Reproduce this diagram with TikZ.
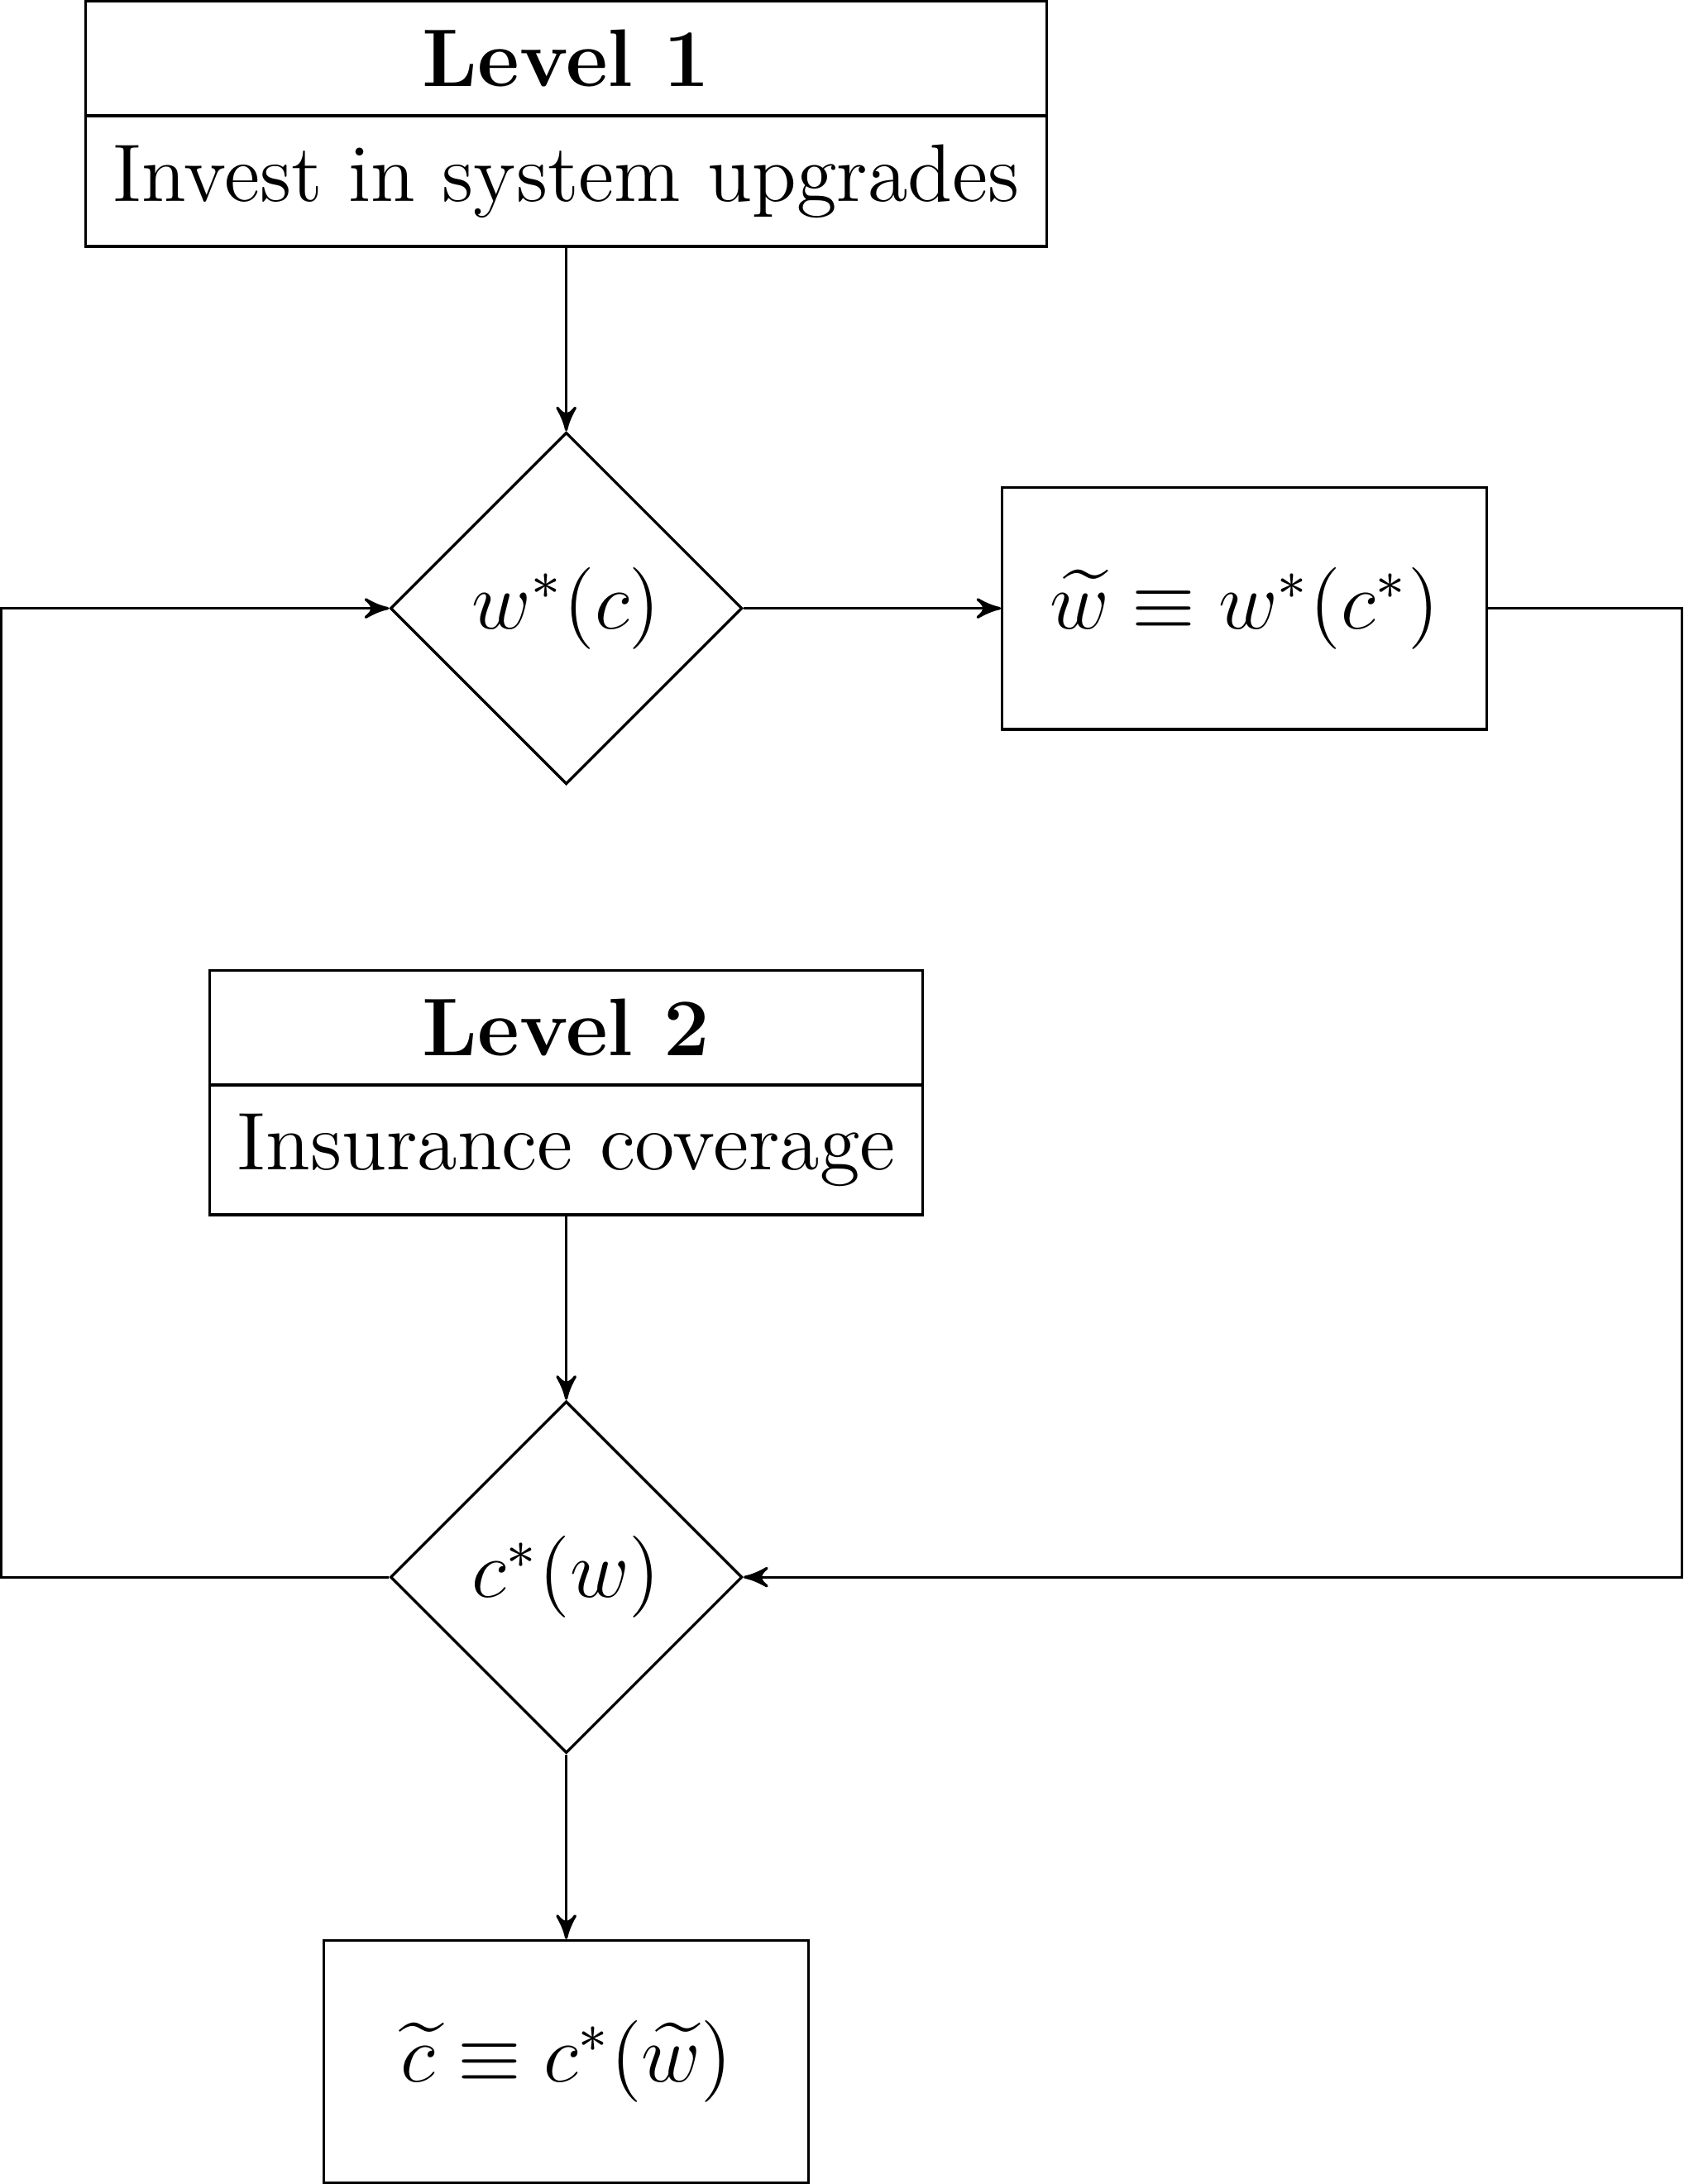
\documentclass[tikz,border=0pt,12pt]{standalone}
\usepackage{amsmath}
\usepackage{amssymb}
\usetikzlibrary{positioning,shapes.geometric,shapes.multipart,arrows}

\begin{document}
\begin{tikzpicture}[>=stealth',
  levelbox/.style={draw, rectangle split, rectangle split parts=2},
  choice/.style={draw, diamond, aspect=1, inner sep=3pt},
  outbox/.style={draw, rectangle, minimum width=2.5cm, minimum height=1.25cm}]
\node[levelbox] (lvl1) at (0,2.5) {\textbf{Level 1}\nodepart{two}Invest in system upgrades};
\node[choice] (d1) at (0,0) {$w^*(c)$};
\node[outbox] (wt) at (3.5,0) {$\widetilde{w} \equiv w^*(c^*)$};
\node[levelbox] (lvl2) at (0,-2.5) {\textbf{Level 2}\nodepart{two}Insurance coverage};
\node[choice] (d2) at (0,-5) {$c^*(w)$};
\node[outbox] (ct) at (0,-7.5) {$\widetilde{c} \equiv c^*(\widetilde{w})$};
\coordinate[left=2cm of d2.west] (backL);
\coordinate[right=1cm of wt.east] (backR);
\draw[->] (lvl1.south) -- (d1.north);
\draw[->] (d1.east) -- (wt.west);
\draw[->] (lvl2.south) -- (d2.north);
\draw[->] (d2.south) -- (ct.north);
\draw[->] (d2.west) -- (backL) |- (d1.west);
\draw[->] (wt.east) -- (backR) |- (d2.east);
\end{tikzpicture}
\end{document}
